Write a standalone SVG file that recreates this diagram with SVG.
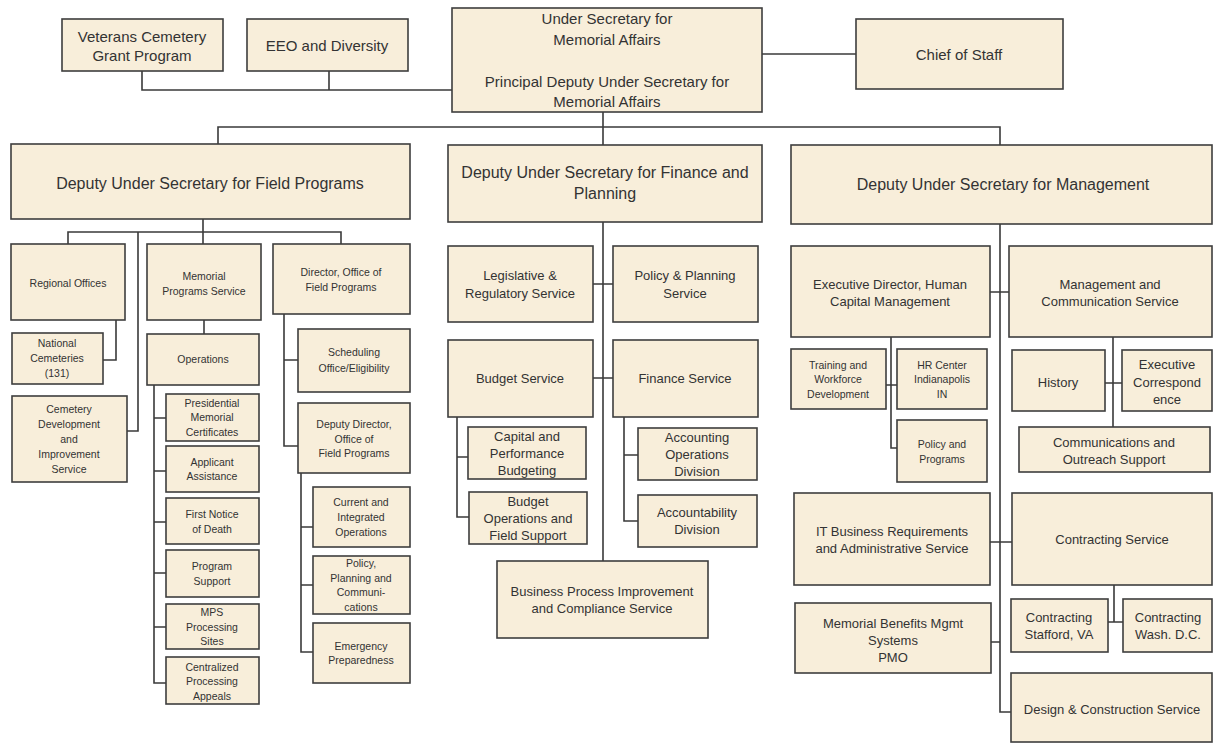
<svg xmlns="http://www.w3.org/2000/svg" width="1214" height="744" viewBox="0 0 1214 744">
<style>
.box{fill:#F8EEDA;stroke:#3E3E3E;stroke-width:1.6}
.c{fill:none;stroke:#3A3A3A;stroke-width:1.6}
text{font-family:"Liberation Sans",Arial,sans-serif;fill:#333;text-anchor:middle;dominant-baseline:central}
.xl{font-size:16px}
.l{font-size:15px}
.m{font-size:13px}
.s{font-size:10.5px}
</style>
<rect width="1214" height="744" fill="#FFFFFF"/>
<g id="connectors" class="c">
<path d="M142,71V90H452M329,71V90"/>
<path d="M762,54H856"/>
<path d="M603,112V145M218,144V127H1000V145"/>
<path d="M203,219V244M68,244V232H341V244M138,232V431H127"/>
<path d="M116,320V360H103"/>
<path d="M204,320V334"/>
<path d="M154,385V683H166M154,418H166M154,471H166M154,522H166M154,573H166M154,627H166"/>
<path d="M284,314V446H298M284,360H298"/>
<path d="M301,473V652H313M301,527H313M301,585H313"/>
<path d="M603,222V561M593,284H613M593,378H613"/>
<path d="M457,417V517H469M457,457H468"/>
<path d="M624,417V521H638M624,455H638"/>
<path d="M1000,224V712H1011M990,292H1009M990,542H1012M991,642H1000"/>
<path d="M891,337V448H897M886,385H897"/>
<path d="M1113,337V427M1105,383H1122"/>
<path d="M1114,585V622M1108,622H1123"/>
</g>
<g id="vet"><rect class="box" x="62" y="19" width="161" height="52"/><text class="l"><tspan x="142" y="36">Veterans Cemetery</tspan><tspan x="142" y="55">Grant Program</tspan></text></g>
<g id="eeo"><rect class="box" x="247" y="19" width="161" height="52"/><text class="l" x="327" y="45">EEO and Diversity</text></g>
<g id="usec"><rect class="box" x="452" y="8" width="310" height="104"/><text class="l"><tspan x="607" y="18">Under Secretary for</tspan><tspan x="607" y="39">Memorial Affairs</tspan><tspan x="607" y="81">Principal Deputy Under Secretary for</tspan><tspan x="607" y="101">Memorial Affairs</tspan></text></g>
<g id="cos"><rect class="box" x="856" y="19" width="207" height="70"/><text class="l" x="959" y="54">Chief of Staff</text></g>
<g id="dus-field"><rect class="box" x="11" y="144" width="399" height="75"/><text class="xl" x="210" y="183">Deputy Under Secretary for Field Programs</text></g>
<g id="dus-fin"><rect class="box" x="448" y="145" width="314" height="77"/><text class="xl"><tspan x="605" y="172">Deputy Under Secretary for Finance and</tspan><tspan x="605" y="193">Planning</tspan></text></g>
<g id="dus-mgmt"><rect class="box" x="791" y="145" width="421" height="79"/><text class="xl" x="1003" y="184">Deputy Under Secretary for Management</text></g>
<g id="regional"><rect class="box" x="11" y="244" width="114" height="76"/><text class="s" x="68" y="283">Regional  Offices</text></g>
<g id="mps"><rect class="box" x="147" y="244" width="114" height="76"/><text class="s"><tspan x="204" y="276">Memorial</tspan><tspan x="204" y="291">Programs Service</tspan></text></g>
<g id="dofp"><rect class="box" x="273" y="244" width="137" height="70"/><text class="s"><tspan x="341" y="272">Director, Office of</tspan><tspan x="341" y="287">Field Programs</tspan></text></g>
<g id="natcem"><rect class="box" x="12" y="333" width="91" height="51"/><text class="s"><tspan x="57" y="343">National</tspan><tspan x="57" y="358">Cemeteries</tspan><tspan x="57" y="373">(131)</tspan></text></g>
<g id="cemdev"><rect class="box" x="12" y="396" width="115" height="86"/><text class="s"><tspan x="69" y="409">Cemetery</tspan><tspan x="69" y="424">Development</tspan><tspan x="69" y="439">and</tspan><tspan x="69" y="454">Improvement</tspan><tspan x="69" y="469">Service</tspan></text></g>
<g id="ops"><rect class="box" x="147" y="334" width="112" height="51"/><text class="s" x="203" y="359">Operations</text></g>
<g id="pmc"><rect class="box" x="166" y="394" width="93" height="47"/><text class="s"><tspan x="212" y="403">Presidential</tspan><tspan x="212" y="417">Memorial</tspan><tspan x="212" y="432">Certificates</tspan></text></g>
<g id="appl"><rect class="box" x="166" y="446" width="93" height="46"/><text class="s"><tspan x="212" y="462">Applicant</tspan><tspan x="212" y="476">Assistance</tspan></text></g>
<g id="fnod"><rect class="box" x="166" y="498" width="93" height="46"/><text class="s"><tspan x="212" y="514">First Notice</tspan><tspan x="212" y="529">of Death</tspan></text></g>
<g id="progsup"><rect class="box" x="166" y="550" width="93" height="47"/><text class="s"><tspan x="212" y="566">Program</tspan><tspan x="212" y="581">Support</tspan></text></g>
<g id="mpsps"><rect class="box" x="166" y="604" width="93" height="45"/><text class="s"><tspan x="212" y="612">MPS</tspan><tspan x="212" y="627">Processing</tspan><tspan x="212" y="641">Sites</tspan></text></g>
<g id="cpa"><rect class="box" x="166" y="657" width="93" height="47"/><text class="s"><tspan x="212" y="667">Centralized</tspan><tspan x="212" y="681">Processing</tspan><tspan x="212" y="696">Appeals</tspan></text></g>
<g id="sched"><rect class="box" x="298" y="329" width="112" height="63"/><text class="s"><tspan x="354" y="352">Scheduling</tspan><tspan x="354" y="368">Office/Eligibility</tspan></text></g>
<g id="ddofp"><rect class="box" x="298" y="403" width="112" height="70"/><text class="s"><tspan x="354" y="424">Deputy Director,</tspan><tspan x="354" y="439">Office of</tspan><tspan x="354" y="453">Field Programs</tspan></text></g>
<g id="cio"><rect class="box" x="313" y="487" width="97" height="60"/><text class="s"><tspan x="361" y="502">Current and</tspan><tspan x="361" y="517">Integrated</tspan><tspan x="361" y="532">Operations</tspan></text></g>
<g id="ppc"><rect class="box" x="313" y="556" width="97" height="58"/><text class="s"><tspan x="361" y="563">Policy,</tspan><tspan x="361" y="578">Planning and</tspan><tspan x="361" y="592">Communi-</tspan><tspan x="361" y="607">cations</tspan></text></g>
<g id="emerg"><rect class="box" x="313" y="623" width="97" height="60"/><text class="s"><tspan x="361" y="646">Emergency</tspan><tspan x="361" y="660">Preparedness</tspan></text></g>
<g id="legis"><rect class="box" x="448" y="246" width="145" height="76"/><text class="m"><tspan x="520" y="275">Legislative &amp;</tspan><tspan x="520" y="293">Regulatory Service</tspan></text></g>
<g id="ppserv"><rect class="box" x="613" y="246" width="145" height="76"/><text class="m"><tspan x="685" y="275">Policy &amp; Planning</tspan><tspan x="685" y="293">Service</tspan></text></g>
<g id="budget"><rect class="box" x="448" y="340" width="145" height="77"/><text class="m" x="520" y="378">Budget Service</text></g>
<g id="finserv"><rect class="box" x="613" y="340" width="145" height="77"/><text class="m" x="685" y="378">Finance Service</text></g>
<g id="cpb"><rect class="box" x="468" y="427" width="118" height="52"/><text class="m"><tspan x="527" y="436">Capital and</tspan><tspan x="527" y="453">Performance</tspan><tspan x="527" y="470">Budgeting</tspan></text></g>
<g id="bofs"><rect class="box" x="469" y="492" width="118" height="52"/><text class="m"><tspan x="528" y="501">Budget</tspan><tspan x="528" y="518">Operations and</tspan><tspan x="528" y="535">Field Support</tspan></text></g>
<g id="aod"><rect class="box" x="638" y="428" width="119" height="52"/><text class="m"><tspan x="697" y="437">Accounting</tspan><tspan x="697" y="454">Operations</tspan><tspan x="697" y="471">Division</tspan></text></g>
<g id="accdiv"><rect class="box" x="638" y="495" width="119" height="52"/><text class="m"><tspan x="697" y="512">Accountability</tspan><tspan x="697" y="529">Division</tspan></text></g>
<g id="bpi"><rect class="box" x="497" y="561" width="211" height="77"/><text class="m"><tspan x="602" y="591">Business Process Improvement</tspan><tspan x="602" y="608">and Compliance Service</tspan></text></g>
<g id="hcm"><rect class="box" x="791" y="246" width="199" height="91"/><text class="m"><tspan x="890" y="284">Executive Director, Human</tspan><tspan x="890" y="301">Capital Management</tspan></text></g>
<g id="mcs"><rect class="box" x="1009" y="246" width="203" height="91"/><text class="m"><tspan x="1110" y="284">Management and</tspan><tspan x="1110" y="301">Communication Service</tspan></text></g>
<g id="twd"><rect class="box" x="791" y="349" width="95" height="60"/><text class="s"><tspan x="838" y="365">Training and</tspan><tspan x="838" y="379">Workforce</tspan><tspan x="838" y="394">Development</tspan></text></g>
<g id="hrc"><rect class="box" x="897" y="349" width="90" height="60"/><text class="s"><tspan x="942" y="365">HR Center</tspan><tspan x="942" y="379">Indianapolis</tspan><tspan x="942" y="394">IN</tspan></text></g>
<g id="pap"><rect class="box" x="897" y="420" width="90" height="62"/><text class="s"><tspan x="942" y="444">Policy and</tspan><tspan x="942" y="459">Programs</tspan></text></g>
<g id="hist"><rect class="box" x="1012" y="350" width="93" height="61"/><text class="m" x="1058" y="382">History</text></g>
<g id="execcorr"><rect class="box" x="1122" y="350" width="90" height="61"/><text class="m"><tspan x="1167" y="364">Executive</tspan><tspan x="1167" y="382">Correspond</tspan><tspan x="1167" y="399">ence</tspan></text></g>
<g id="commout"><rect class="box" x="1019" y="427" width="191" height="45"/><text class="m"><tspan x="1114" y="442">Communications and</tspan><tspan x="1114" y="459">Outreach Support</tspan></text></g>
<g id="itbr"><rect class="box" x="794" y="493" width="196" height="92"/><text class="m"><tspan x="892" y="531">IT Business Requirements</tspan><tspan x="892" y="548">and Administrative Service</tspan></text></g>
<g id="contr"><rect class="box" x="1012" y="493" width="200" height="92"/><text class="m" x="1112" y="539">Contracting Service</text></g>
<g id="cstaf"><rect class="box" x="1011" y="599" width="97" height="53"/><text class="m"><tspan x="1059" y="617">Contracting</tspan><tspan x="1059" y="634">Stafford, VA</tspan></text></g>
<g id="cwash"><rect class="box" x="1123" y="599" width="89" height="53"/><text class="m"><tspan x="1168" y="617">Contracting</tspan><tspan x="1168" y="634">Wash. D.C.</tspan></text></g>
<g id="mbms"><rect class="box" x="795" y="603" width="196" height="70"/><text class="m"><tspan x="893" y="623">Memorial Benefits Mgmt</tspan><tspan x="893" y="640">Systems</tspan><tspan x="893" y="657">PMO</tspan></text></g>
<g id="design"><rect class="box" x="1011" y="673" width="201" height="69"/><text class="m" x="1112" y="709">Design &amp; Construction Service</text></g>
</svg>
